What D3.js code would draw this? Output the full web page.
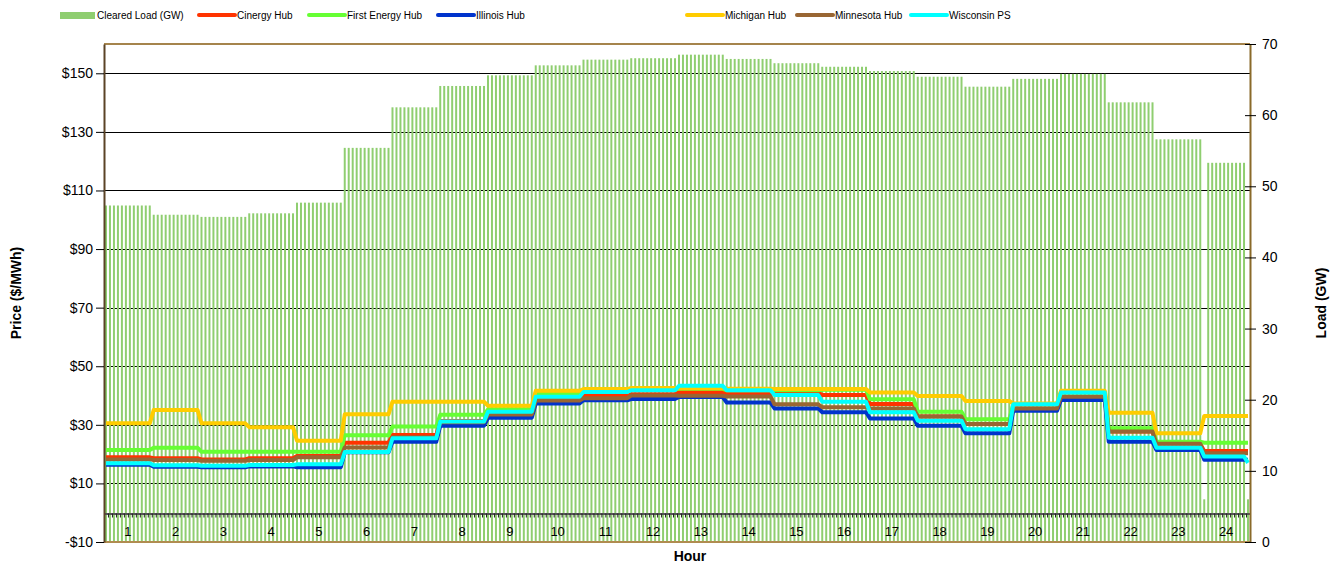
<!DOCTYPE html>
<html><head><meta charset="utf-8">
<script src="https://cdn.jsdelivr.net/npm/d3@7"></script>
<style>
body{margin:0;background:#fff}
svg{display:block}
text{font-family:"Liberation Sans",Arial,sans-serif;fill:#000}
</style>
</head><body>
<svg id="chart" width="1339" height="565"></svg>
<script>
// ---------- data ----------
const hours = d3.range(1, 25);
const intervalsPerHour = 12;
const clearedLoad = [47.3, 46.0, 45.7, 46.2, 47.7, 55.4, 61.1, 64.1, 65.6, 67.0, 67.8, 68.0,
                     68.5, 67.9, 67.3, 66.8, 66.2, 65.4, 64.0, 65.1, 65.8, 61.8, 56.6, 53.3];
const loadDipIntervals = [276, 287];
const loadDipValues = [6.0, 6.0];
const cinergy    = [18.9, 18.6, 18.2, 18.6, 19.4, 23.9, 26.5, 31.3, 33.4, 38.7, 39.8, 40.4,
                    41.2, 40.7, 40.8, 40.2, 37.1, 32.8, 30.3, 35.6, 39.6, 27.7, 23.5, 21.1];
const firstEnergy= [21.4, 22.2, 20.8, 20.8, 20.8, 26.4, 29.4, 33.4, 35.3, 40.8, 41.6, 42.0,
                    42.3, 41.8, 41.8, 42.0, 38.7, 34.5, 31.9, 37.0, 41.0, 28.8, 24.2, 23.9];
const illinois   = [16.4, 15.7, 15.5, 15.8, 15.5, 20.6, 24.2, 29.7, 32.4, 37.3, 38.4, 38.8,
                    39.5, 37.6, 35.6, 34.3, 32.2, 29.7, 27.1, 34.8, 38.5, 24.2, 21.4, 18.1];
const michigan   = [30.5, 35.1, 30.5, 29.2, 24.6, 33.6, 37.9, 37.9, 36.5, 41.6, 42.2, 42.6,
                    42.5, 42.3, 42.2, 42.2, 41.0, 39.8, 38.1, 37.3, 41.6, 34.1, 27.1, 33.0];
const minnesota  = [18.2, 18.0, 17.7, 18.0, 18.9, 22.3, 25.8, 30.9, 33.5, 38.3, 39.1, 40.0,
                    39.9, 39.7, 37.0, 36.0, 35.6, 32.8, 30.3, 35.6, 39.6, 27.7, 23.5, 20.3];
const wisconsin  = [16.9, 16.2, 16.0, 16.3, 16.5, 20.7, 25.4, 31.1, 34.5, 39.6, 41.2, 41.8,
                    43.3, 41.8, 40.2, 37.9, 34.3, 31.4, 28.5, 37.0, 41.0, 25.6, 22.2, 19.2];
const wisconsinFinalInterval = 17.0;
const priceTicks = [-10, 10, 30, 50, 70, 90, 110, 130, 150];
const loadTicks = [0, 10, 20, 30, 40, 50, 60, 70];

const seriesNames  = ["Cinergy Hub", "First Energy Hub", "Illinois Hub", "Michigan Hub", "Minnesota Hub", "Wisconsin PS"];
const seriesColors = ["#ff3300", "#66ff33", "#0033cc", "#ffcc00", "#996633", "#00ffff"];
const seriesValues = [cinergy, firstEnergy, illinois, michigan, minnesota, wisconsin];
const loadColor = "#8fce70";

// ---------- layout ----------
const L = 104, R = 1250, T = 44, B = 542;
const svg = d3.select("#chart");
const nInt = hours.length * intervalsPerHour;

const x = d3.scaleBand().domain(d3.range(nInt)).range([L, R]).paddingInner(0.5).paddingOuter(0.25);
const xEdge = d3.scaleLinear().domain([0, nInt]).range([L, R]);
const xHour = d3.scaleBand().domain(hours).range([L, R]);
const yP = d3.scaleLinear().domain([-10, 160]).range([B, T]);
const yL = d3.scaleLinear().domain([0, 70]).range([B, T]);

// interval-level load (hourly value repeated per 5-minute interval, with the dips)
const loadIntervals = d3.range(nInt).map(i => {
  const k = loadDipIntervals.indexOf(i);
  return {i, v: k >= 0 ? loadDipValues[k] : clearedLoad[Math.floor(i / intervalsPerHour)]};
});

// gridlines (behind bars)
svg.append("g").selectAll("line").data(priceTicks.filter(d => d > -10)).join("line")
  .attr("x1", L).attr("x2", R)
  .attr("y1", d => Math.round(yP(d)) + 0.5).attr("y2", d => Math.round(yP(d)) + 0.5)
  .attr("stroke", "#000").attr("stroke-width", 1);

// bars
svg.append("g").selectAll("rect").data(loadIntervals).join("rect")
  .attr("x", d => x(d.i)).attr("width", x.bandwidth())
  .attr("y", d => yL(d.v)).attr("height", d => yL(0) - yL(d.v))
  .attr("fill", loadColor);

// x axis at price 0 with interval ticks
const xAxisG = svg.append("g").attr("transform", `translate(0,${Math.round(yP(0)) + 0.5})`)
  .call(d3.axisBottom(xEdge).tickValues(d3.range(nInt + 1)).tickFormat("").tickSize(4).tickSizeOuter(0));
xAxisG.select(".domain").attr("stroke", "#555").attr("stroke-width", 2);
xAxisG.selectAll(".tick line").attr("stroke", "#222");

// hour labels
const hourG = svg.append("g").attr("transform", `translate(0,${Math.round(yP(0))})`)
  .call(d3.axisBottom(xHour).tickSize(0).tickPadding(14));
hourG.select(".domain").remove();
hourG.selectAll("text").attr("font-size", 13).attr("font-family", "Liberation Sans, Arial, sans-serif");

// price lines
const line = d3.line().curve(d3.curveLinear);
seriesValues.forEach((vals, s) => {
  const pts = d3.range(nInt).map(i => {
    let v = vals[Math.floor(i / intervalsPerHour)];
    if (s === 5 && i === nInt - 1) v = wisconsinFinalInterval;
    return [x(i) + x.bandwidth() / 2, yP(v)];
  });
  svg.append("path").attr("d", line(pts)).attr("fill", "none")
    .attr("stroke", seriesColors[s]).attr("stroke-width", 4)
    .attr("stroke-linejoin", "round");
});

// plot border
svg.append("line").attr("x1", L).attr("x2", R).attr("y1", T).attr("y2", T).attr("stroke", "#a5844c").attr("stroke-width", 2);
svg.append("line").attr("x1", L).attr("x2", R).attr("y1", B).attr("y2", B).attr("stroke", "#b08c50").attr("stroke-width", 2);

// left axis
const leftG = svg.append("g").attr("transform", `translate(${L},0)`)
  .call(d3.axisLeft(yP).tickValues(priceTicks).tickSize(8).tickSizeOuter(0).tickPadding(3)
    .tickFormat(d => (d < 0 ? "-$" : "$") + Math.abs(d)));
leftG.select(".domain").attr("stroke", "#5b4326").attr("stroke-width", 2);
leftG.selectAll(".tick line").attr("stroke", "#000");
leftG.selectAll("text").attr("font-size", 14).attr("font-family", "Liberation Sans, Arial, sans-serif");

// right axis
const rightG = svg.append("g").attr("transform", `translate(${R},0)`)
  .call(d3.axisRight(yL).tickValues(loadTicks).tickSize(6).tickSizeOuter(0).tickPadding(6));
rightG.select(".domain").attr("stroke", "#8a6a2a").attr("stroke-width", 2);
rightG.selectAll(".tick line").attr("x1", -5).attr("stroke", "#000");
rightG.selectAll("text").attr("font-size", 14).attr("font-family", "Liberation Sans, Arial, sans-serif");

// axis titles
svg.append("text").attr("x", 690).attr("y", 561).attr("text-anchor", "middle")
  .attr("font-size", 14).attr("font-weight", "bold").text("Hour");
svg.append("text").attr("transform", "translate(21,293) rotate(-90)").attr("text-anchor", "middle")
  .attr("font-size", 14).attr("font-weight", "bold").text("Price ($/MWh)");
svg.append("text").attr("transform", "translate(1326,303) rotate(-90)").attr("text-anchor", "middle")
  .attr("font-size", 14).attr("font-weight", "bold").text("Load (GW)");

// legend
const legend = svg.append("g").attr("font-size", 10);
legend.append("rect").attr("x", 60).attr("y", 12).attr("width", 35).attr("height", 7).attr("fill", loadColor);
legend.append("text").attr("x", 97).attr("y", 19).text("Cleared Load (GW)");
const legX = [199, 309, 438, 687, 797, 911];
seriesNames.forEach((n, s) => {
  legend.append("line").attr("x1", legX[s]).attr("x2", legX[s] + 36).attr("y1", 15).attr("y2", 15)
    .attr("stroke", seriesColors[s]).attr("stroke-width", 4).attr("stroke-linecap", "round");
  legend.append("text").attr("x", legX[s] + 38).attr("y", 19).text(n);
});
</script>
</body></html>
